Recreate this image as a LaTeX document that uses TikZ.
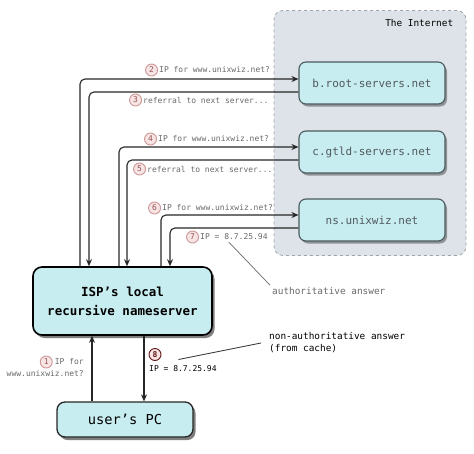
\documentclass[tikz,border=0pt]{standalone}
\usepackage{fontspec}
\setmonofont{DejaVu Sans Mono}
\usepackage{tikz}
\usepackage{xcolor}
\usetikzlibrary{positioning, shadows, arrows.meta}

\definecolor{boxfill}{RGB}{200,237,240}
\definecolor{netfill}{RGB}{221,227,232}
\definecolor{netline}{RGB}{155,165,172}
\definecolor{srvline}{RGB}{75,90,92}
\definecolor{srvtext}{RGB}{80,90,95}
\definecolor{lblgray}{RGB}{105,105,105}
\definecolor{pinkline}{RGB}{205,150,150}
\definecolor{pinkfill}{RGB}{247,228,228}
\definecolor{pinktext}{RGB}{150,85,85}
\definecolor{darkred}{RGB}{100,25,25}

\begin{document}
\begin{tikzpicture}[
            x=1pt, y=-1pt,
            srv/.style={draw=srvline, fill=boxfill, rounded corners=7pt, line width=1.1pt,
                minimum width=146pt, minimum height=42pt, text=srvtext,
                font=\ttfamily\fontsize{11}{13}\selectfont,
                drop shadow={shadow xshift=2pt, shadow yshift=-2.5pt, fill=black, opacity=0.35}},
            isp/.style={draw=black, fill=boxfill, rounded corners=9pt, line width=1.6pt,
                minimum width=179pt, minimum height=68pt, align=center,
                font=\ttfamily\bfseries\fontsize{12.5}{19}\selectfont,
                drop shadow={shadow xshift=2.5pt, shadow yshift=-3pt, fill=black, opacity=0.5}},
            pc/.style={draw=black!85, fill=boxfill, rounded corners=8pt, line width=1.3pt,
                minimum width=136pt, minimum height=35pt,
                font=\ttfamily\fontsize{13.7}{16}\selectfont,
                drop shadow={shadow xshift=2.5pt, shadow yshift=-3pt, fill=black, opacity=0.5}},
            lbl/.style={inner sep=0pt, anchor=west, text=lblgray,
                font=\ttfamily\fontsize{8}{10}\selectfont},
            note/.style={inner sep=0pt, anchor=west, align=left,
                font=\ttfamily\fontsize{9.4}{12}\selectfont},
            numc/.style={circle, draw=pinkline, fill=pinkfill, line width=0.9pt, inner sep=0pt,
                minimum size=12pt, text=pinktext, font=\ttfamily\fontsize{8}{8}\selectfont},
            arr/.style={-{Stealth[length=7pt, width=6pt]}, draw=black!85, line width=1.1pt,
                rounded corners=5pt},
        ]
            \useasboundingbox (0,0) rectangle (474,453);

            \node[draw=netline, dashed, fill=netfill, rounded corners=9pt, line width=0.8pt,
                minimum width=192pt, minimum height=245pt] (net) at (370,133) {};
            \node[inner sep=0pt, anchor=north east, font=\ttfamily\fontsize{9.4}{11}\selectfont]
                (netlbl) at ([xshift=-13pt, yshift=-9pt]net.north east) {The Internet};

            \node[srv] (broot) at (372,83) {b.root-servers.net};
            \node[srv] (cgtld) at (372,152) {c.gtld-servers.net};
            \node[srv] (nsuw) at (372,220) {ns.unixwiz.net};

            \node[isp] (isp) at (122.5,301) {ISP’s local\\recursive nameserver};
            \node[pc] (pc) at (125,419.5) {user’s PC};

            \draw[arr] ([xshift=-42.5pt]isp.north) |- ([yshift=4pt]broot.west);
            \draw[arr] ([yshift=-9pt]broot.west) -| ([xshift=-33.5pt]isp.north);
            \draw[arr] ([xshift=-3.5pt]isp.north) |- ([yshift=5pt]cgtld.west);
            \draw[arr] ([yshift=-8pt]cgtld.west) -| ([xshift=4.5pt]isp.north);
            \draw[arr] ([xshift=38.5pt]isp.north) |- ([yshift=5pt]nsuw.west);
            \draw[arr] ([yshift=-8pt]nsuw.west) -| ([xshift=47.5pt]isp.north);
            \draw[arr] ([xshift=-33pt]pc.north) -- ([xshift=-33pt]pc.north |- isp.south);
            \draw[arr] ([xshift=21.5pt]isp.south) -- ([xshift=21.5pt]isp.south |- pc.north);

            \node[lbl] (l2) at (159,70) {IP for www.unixwiz.net?};
            \node[numc, left=1pt of l2] (n2) {2};
            \node[lbl] (l3) at (143,100) {referral to next server...};
            \node[numc, left=1pt of l3] (n3) {3};
            \node[lbl] (l4) at (158,139) {IP for www.unixwiz.net?};
            \node[numc, left=1pt of l4] (n4) {4};
            \node[lbl] (l5) at (147,169) {referral to next server...};
            \node[numc, left=1pt of l5] (n5) {5};
            \node[lbl] (l6) at (162,208) {IP for www.unixwiz.net?};
            \node[numc, left=1pt of l6] (n6) {6};
            \node[lbl] (l7) at (200,237) {IP = 8.7.25.94};
            \node[numc, left=1pt of l7] (n7) {7};
            \node[lbl, anchor=east] (l1a) at (84,362) {IP for};
            \node[numc, left=2pt of l1a] (n1) {1};
            \node[lbl, anchor=east] (l1b) at (84,374) {www.unixwiz.net?};

            \node[numc, draw=darkred, text=darkred, font=\ttfamily\bfseries\fontsize{8}{8}\selectfont]
                (n8) at (155,354.5) {8};
            \node[lbl, text=black] (l8) at (149,369) {IP = 8.7.25.94};

            \node[note, text=lblgray] (auth) at (272,291) {authoritative answer};
            \node[note] (nonauth) at (269,343) {non-authoritative answer\\(from cache)};

            \draw[lblgray, line width=0.7pt] ([xshift=-5pt, yshift=-2pt]l7.south) -- ([xshift=-2pt, yshift=2pt]auth.north west);
            \draw[black!80, line width=0.8pt] ([xshift=17pt, yshift=-5pt]n8.east) -- ([xshift=-8pt]nonauth.west);
        \end{tikzpicture}
\end{document}
